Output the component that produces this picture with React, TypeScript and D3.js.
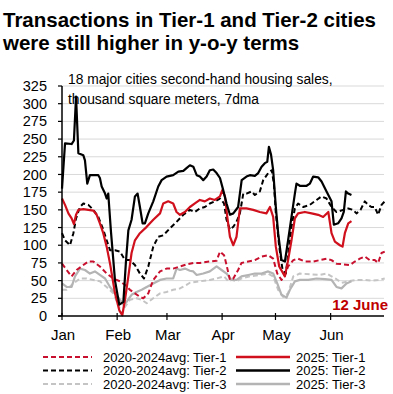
import * as d3 from 'd3';

type Pt = [number, number];

// x = day of year (0 = 1 Jan), y = thousand sq m (7dma)
const tier1_2025: Pt[] = [
    [0, 166], [1.7, 157], [3.6, 145], [5.4, 138], [6.7, 130], [7.9, 143], [9.2, 150], [12, 151], [14.8, 150],
    [17.6, 149], [19.5, 143], [21.3, 131], [23.2, 117], [25.1, 98], [27, 74], [29.8, 32], [32.2, 8], [33.9, 1],
    [35.4, 23], [37.3, 56], [39.1, 89], [41, 107], [43.8, 117], [47.6, 126], [51.3, 136], [55.1, 145], [56.9, 159],
    [59.7, 162], [62.5, 159], [64.4, 147], [66.3, 143], [69.1, 147], [71.9, 154], [74.7, 159], [77.5, 164],
    [80.3, 162], [83.1, 166], [85.9, 164], [88.8, 169], [90.1, 178], [91.6, 169], [92.9, 140], [94.4, 112],
    [96.3, 100], [98.1, 112], [100, 152], [103.7, 152], [107.5, 150], [111.2, 147], [114.9, 145], [116.9, 154],
    [118.7, 140], [120.2, 98], [122.1, 70], [125.3, 56], [127.1, 79], [129, 107], [130.9, 138], [132.7, 145],
    [136.5, 147], [140.3, 145], [144, 143], [146.8, 140], [149.7, 147], [151.5, 117], [153.4, 105], [156.2, 100],
    [157.7, 98], [159, 117], [160.9, 131], [162.7, 134],
];

const tier2_2025: Pt[] = [
    [0, 180], [1.7, 244], [5.4, 243], [6.7, 248], [7.9, 310], [9.2, 230], [12, 227], [12.9, 220], [14.2, 187],
    [15.7, 199], [20.4, 199], [21.3, 195], [22.3, 183], [24.2, 173], [25.1, 166], [26, 173], [27.5, 120],
    [29.8, 50], [32.2, 16], [34.5, 20], [36, 79], [37.3, 121], [39.1, 136], [41, 169], [42.5, 173], [43.8, 154],
    [45.3, 131], [46.6, 131], [48.5, 145], [51.3, 162], [54.1, 183], [56, 192], [58.8, 197], [62.5, 199],
    [65.4, 204], [68.2, 205], [70, 209], [71.9, 213], [73.8, 211], [75.7, 199], [77.5, 197], [79.4, 192],
    [81.3, 197], [83.1, 206], [85, 207], [86.9, 202], [88.8, 195], [90.4, 180], [92.5, 159], [94.4, 143],
    [96.3, 145], [99, 154], [101, 192], [103.7, 197], [105.6, 199], [108.4, 198], [110.3, 202], [112.2, 211],
    [114, 216], [115.4, 218], [116.3, 239], [117.5, 228], [118.7, 206], [120.2, 154], [121.5, 117], [123.4, 79],
    [125.3, 77], [127.1, 107], [129, 140], [130.9, 173], [131.8, 187], [133.7, 184], [137.5, 184], [139.3, 187],
    [141.2, 197], [144, 196], [145.9, 190], [148.7, 176], [151.5, 162], [152.8, 129], [155.2, 131], [157.1, 138],
    [158.4, 147], [159.6, 176], [160.9, 173], [162.7, 171],
];

const tier3_2025: Pt[] = [
    [0, 46], [2.6, 41], [5.4, 41], [7.3, 56], [10.1, 67], [12.9, 65], [15.7, 60], [18.5, 63], [21.3, 58],
    [24.2, 53], [27, 41], [29.8, 32], [32.6, 23], [34.5, 16], [36.3, 20], [39.1, 30], [41.9, 34], [44.8, 37],
    [47.6, 41], [51.3, 46], [55.1, 51], [58.8, 53], [62.5, 53], [64.4, 67], [66.3, 65], [69.1, 67], [71.9, 64],
    [73.8, 63], [75.7, 58], [79.4, 60], [83.1, 63], [86.9, 70], [89.7, 65], [92.5, 60], [95.3, 51], [98.1, 51],
    [100.9, 56], [104.7, 58], [108.4, 60], [112.2, 60], [115.9, 63], [118.7, 60], [121, 46], [123.4, 30],
    [126.2, 26], [128.1, 37], [130.9, 49], [133.7, 51], [138.4, 51], [143.1, 53], [147.8, 52], [151.5, 51],
    [154.3, 41], [157.1, 39], [159.9, 46], [162.7, 49],
];

const tier1_avg: Pt[] = [
    [0, 74], [2.6, 65], [5.4, 56], [8.2, 65], [12, 72], [14.8, 77], [17.6, 77], [21.3, 70], [25.1, 60],
    [28.8, 53], [32.6, 49], [35.4, 44], [38.2, 37], [41, 32], [43.8, 27], [45.7, 25], [48.5, 32], [51.3, 51],
    [55.1, 63], [58.8, 67], [62.5, 67], [66.3, 70], [70, 73], [73.8, 75], [77.5, 75], [83.1, 77], [86.9, 78],
    [88.8, 91], [91.1, 86], [92.5, 72], [94.4, 51], [96.3, 53], [99, 65], [100.9, 75], [104.7, 77], [108.4, 79],
    [112.2, 84], [115.9, 86], [118.7, 81], [121, 60], [123.4, 51], [125.3, 58], [127.1, 70], [130, 79],
    [132.7, 81], [136.5, 77], [141.2, 77], [144.9, 79], [148.7, 81], [151.5, 79], [154.3, 74], [158.1, 73],
    [161.8, 72], [164.6, 77], [167.4, 81], [170.2, 84], [173, 79], [175.8, 79], [177.7, 75], [179.6, 89],
    [181.4, 91],
];

const tier2_avg: Pt[] = [
    [0, 117], [1.7, 107], [4.5, 100], [6.4, 117], [7.9, 138], [10.1, 154], [12, 159], [14.8, 157], [17.6, 150],
    [20.4, 140], [23.2, 122], [25.1, 107], [27, 93], [29.8, 93], [32.6, 91], [35.4, 79], [38.2, 79], [41, 72],
    [43.8, 60], [46.1, 53], [48.5, 70], [51.3, 98], [54.1, 112], [56.9, 114], [60.7, 124], [64.4, 133],
    [68.2, 143], [71.9, 150], [74.7, 147], [77.5, 152], [80.3, 154], [83.1, 159], [85.9, 162], [88.8, 166],
    [91.1, 159], [92.5, 136], [94.4, 122], [96.3, 126], [98.1, 133], [100, 145], [101.9, 173], [103.7, 173],
    [106.6, 176], [108.4, 171], [111.2, 176], [113.1, 192], [115.9, 202], [117.9, 206], [119.1, 187],
    [120.2, 145], [122.1, 98], [124, 65], [125.8, 60], [127.7, 98], [129, 126], [130.9, 152], [132.7, 159],
    [135.6, 154], [139.3, 157], [143.1, 164], [145.9, 169], [148.7, 166], [151.5, 154], [154.3, 147],
    [158.1, 150], [160.9, 152], [163.6, 150], [165.5, 145], [167.8, 150], [170.2, 162], [172.1, 157],
    [173.9, 154], [175.8, 154], [177.7, 143], [179.6, 157], [181.4, 162],
];

const tier3_avg: Pt[] = [
    [0, 37], [2.6, 37], [6.4, 46], [10.1, 53], [13.9, 53], [17.6, 51], [21.3, 49], [25.1, 41], [28.8, 32],
    [31.6, 16], [33.5, 4], [35.4, 13], [38.2, 23], [41.9, 25], [44.8, 23], [47.6, 18], [51.3, 25], [55.1, 32],
    [58.8, 34], [62.5, 37], [66.3, 39], [70, 44], [71.9, 47], [77.5, 49], [83.1, 51], [86.9, 53], [91.1, 56],
    [93.5, 49], [95.3, 51], [98.1, 49], [100.9, 53], [105.6, 56], [111.2, 58], [115.9, 60], [118.7, 56],
    [121.5, 37], [124.3, 27], [127.1, 32], [130, 56], [133.7, 60], [139.3, 59], [144.9, 58], [148.7, 60],
    [151.5, 56], [154.3, 52], [157.1, 47], [160.9, 49], [165.5, 51], [169.3, 51], [173.9, 50], [177.7, 51],
    [181.4, 53],
];

const monthTicks = [0, 31, 59, 90, 120, 151];
const monthLabels = ['Jan', 'Feb', 'Mar', 'Apr', 'May', 'Jun'];
const yTicks = d3.range(0, 326, 25);

const RED = '#d0101c';
const RED_D = '#c8102e';
const BLACK = '#000';
const GREY = '#b4b4b4';
const GREY_D = '#c4c4c4';

type Series = { name: string; data: Pt[]; color: string; dashed: boolean };

const series: Series[] = [
    { name: '2020-2024avg: Tier-3', data: tier3_avg, color: GREY_D, dashed: true },
    { name: '2025: Tier-3', data: tier3_2025, color: GREY, dashed: false },
    { name: '2020-2024avg: Tier-1', data: tier1_avg, color: RED_D, dashed: true },
    { name: '2020-2024avg: Tier-2', data: tier2_avg, color: BLACK, dashed: true },
    { name: '2025: Tier-1', data: tier1_2025, color: RED, dashed: false },
    { name: '2025: Tier-2', data: tier2_2025, color: BLACK, dashed: false },
];

const legendLeft = ['2020-2024avg: Tier-1', '2020-2024avg: Tier-2', '2020-2024avg: Tier-3'];
const legendRight = ['2025: Tier-1', '2025: Tier-2', '2025: Tier-3'];

const W = 393;
const H = 394;
const NARROW = '"Liberation Sans Narrow", "Arial Narrow", "Liberation Sans", Arial, sans-serif';
const SANS = '"Liberation Sans", Arial, Helvetica, sans-serif';

export default function App() {
    const x = d3.scaleLinear().domain([0, 181]).range([62, 384]);
    const y = d3.scaleLinear().domain([0, 325]).range([316, 86]);
    const line = d3
        .line<Pt>()
        .x((d) => x(d[0]))
        .y((d) => y(d[1]));
    const byName = (n: string) => series.find((s) => s.name === n)!;

    return (
        <svg
            width={W}
            height={H}
            style={{ position: 'absolute', left: 0, top: 0, background: '#fff' }}
        >
            <text fontFamily={SANS} fontWeight="bold" fontSize={20.5} fill="#000">
                <tspan x={3} y={27}>Transactions in Tier-1 and Tier-2 cities</tspan>
                <tspan x={3} y={50}>were still higher in y-o-y terms</tspan>
            </text>

            {yTicks.slice(1).map((t) => (
                <line key={t} x1={x(0)} x2={384} y1={y(t)} y2={y(t)} stroke="#d9d9d9" strokeWidth={1} />
            ))}

            {series.map((s) => (
                <path
                    key={s.name}
                    d={line(s.data) ?? ''}
                    fill="none"
                    stroke={s.color}
                    strokeWidth={s.dashed ? 2 : 2.2}
                    strokeDasharray={s.dashed ? '5,3' : undefined}
                    strokeLinejoin="round"
                />
            ))}

            {/* axes */}
            <line x1={x(0)} x2={x(0)} y1={y(325)} y2={y(0)} stroke="#000" strokeWidth={1.5} />
            <line x1={x(0) - 4} x2={384} y1={y(0)} y2={y(0)} stroke="#000" strokeWidth={1.5} />
            {yTicks.map((t) => (
                <g key={t}>
                    <line x1={x(0) - 4} x2={x(0)} y1={y(t)} y2={y(t)} stroke="#000" strokeWidth={1.2} />
                    <text
                        x={47}
                        y={y(t)}
                        dy="0.35em"
                        textAnchor="end"
                        fontFamily={NARROW}
                        fontSize={14.5}
                        fill="#000"
                    >
                        {t}
                    </text>
                </g>
            ))}
            {monthTicks.map((m, i) => (
                <g key={m}>
                    <line x1={x(m)} x2={x(m)} y1={y(0) - 3} y2={y(0) + 4} stroke="#000" strokeWidth={1.2} />
                    <text
                        x={x(m) + 1}
                        y={340}
                        textAnchor="middle"
                        fontFamily={NARROW}
                        fontSize={15}
                        fill="#000"
                    >
                        {monthLabels[i]}
                    </text>
                </g>
            ))}

            <text fontFamily={NARROW} fontSize={13.8} fill="#000">
                <tspan x={68} y={84}>18 major cities second-hand housing sales,</tspan>
                <tspan x={68} y={104}>thousand square meters, 7dma</tspan>
            </text>

            <text
                x={388}
                y={310}
                textAnchor="end"
                fontFamily={NARROW}
                fontWeight="bold"
                fontSize={15}
                fill="#c00000"
            >
                12 June
            </text>

            {legendLeft.map((n, i) => {
                const s = byName(n);
                const ly = 357 + i * 13.5;
                return (
                    <g key={n}>
                        <line x1={43} x2={92} y1={ly} y2={ly} stroke={s.color} strokeWidth={2.2} strokeDasharray="5,3" />
                        <text x={103} y={ly} dy="0.35em" fontFamily={NARROW} fontSize={13} fill="#000">
                            {n}
                        </text>
                    </g>
                );
            })}
            {legendRight.map((n, i) => {
                const s = byName(n);
                const ly = 357 + i * 13.5;
                return (
                    <g key={n}>
                        <line x1={236} x2={290} y1={ly} y2={ly} stroke={s.color} strokeWidth={2.6} />
                        <text x={296} y={ly} dy="0.35em" fontFamily={NARROW} fontSize={13} fill="#000">
                            {n}
                        </text>
                    </g>
                );
            })}
        </svg>
    );
}
